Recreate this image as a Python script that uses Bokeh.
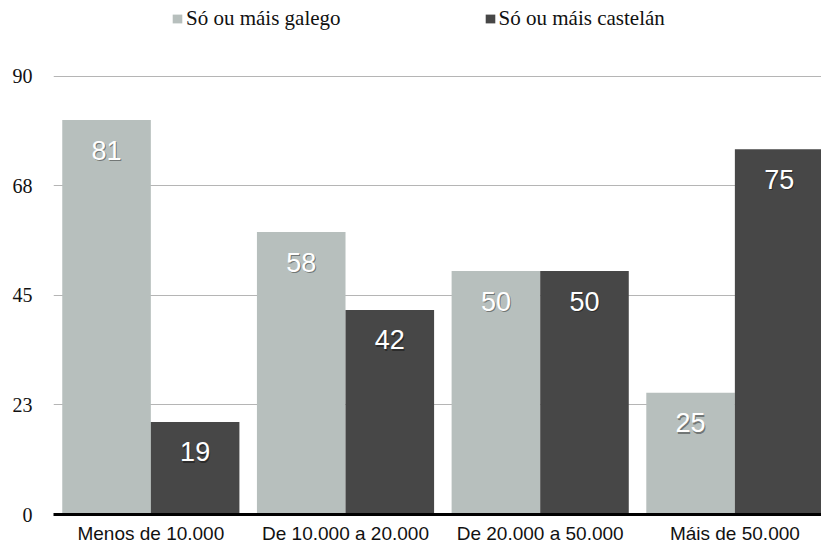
from bokeh.plotting import figure
from bokeh.models import Range1d, FixedTicker, Legend, LegendItem, ColumnDataSource
from bokeh.core.properties import value
from bokeh.embed import file_html
from bokeh.resources import INLINE

categories = ["Menos de 10.000", "De 10.000 a 20.000", "De 20.000 a 50.000", "Máis de 50.000"]
galego = [81, 58, 50, 25]
castelan = [19, 42, 50, 75]
series_names = ["Só ou máis galego", "Só ou máis castelán"]
y_ticks = [0, 22.5, 45, 67.5, 90]
y_tick_labels = ["0", "23", "45", "68", "90"]

GAL_COLOR = "#b7bfbd"
CAS_COLOR = "#474747"
BW = 0.455

centers = [i + 0.5 for i in range(len(categories))]
src_g = ColumnDataSource(dict(x=[c - BW / 2 for c in centers], top=galego,
                              lab=[str(v) for v in galego]))
src_c = ColumnDataSource(dict(x=[c + BW / 2 for c in centers], top=castelan,
                              lab=[str(v) for v in castelan]))

p = figure(width=821, height=546, output_backend="svg", toolbar_location=None,
           x_range=Range1d(0, 3.945), y_range=Range1d(0, 105.55),
           min_border_left=53, min_border_right=0, min_border_top=0, min_border_bottom=30)
p.outline_line_color = None
p.background_fill_color = "white"

rg = p.vbar(x="x", top="top", width=BW, source=src_g, fill_color=GAL_COLOR, line_color=None)
rc = p.vbar(x="x", top="top", width=BW, source=src_c, fill_color=CAS_COLOR, line_color=None)

for src in (src_g, src_c):
    p.text(x="x", y="top", text="lab", source=src, text_align="center", text_baseline="middle",
           x_offset=1, y_offset=31.5, text_color="black", text_alpha=0.4,
           text_font=value("Liberation Sans"), text_font_size="27px")
    p.text(x="x", y="top", text="lab", source=src, text_align="center", text_baseline="middle",
           y_offset=30, text_color="white",
           text_font=value("Liberation Sans"), text_font_size="27px")

# axes
p.xaxis.ticker = FixedTicker(ticks=centers)
p.xaxis.major_label_overrides = {c: lab for c, lab in zip(centers, categories)}
p.xaxis.major_tick_line_color = None
p.xaxis.major_tick_out = 0
p.xaxis.major_tick_in = 0
p.xaxis.minor_tick_line_color = None
p.xaxis.axis_line_color = "black"
p.xaxis.axis_line_width = 3
p.xaxis.major_label_text_font = "Liberation Sans"
p.xaxis.major_label_text_font_size = "19px"
p.xaxis.major_label_text_color = "#111111"
p.xaxis.major_label_standoff = 8

p.yaxis.ticker = FixedTicker(ticks=y_ticks)
p.yaxis.major_label_overrides = {t: lab for t, lab in zip(y_ticks, y_tick_labels)}
p.yaxis.major_tick_line_color = None
p.yaxis.major_tick_out = 0
p.yaxis.major_tick_in = 0
p.yaxis.minor_tick_line_color = None
p.yaxis.axis_line_color = None
p.yaxis.major_label_text_font = "Liberation Serif"
p.yaxis.major_label_text_font_size = "20px"
p.yaxis.major_label_text_color = "#111111"
p.yaxis.major_label_standoff = 21

p.xgrid.grid_line_color = None
p.ygrid.ticker = FixedTicker(ticks=y_ticks[1:])
p.ygrid.grid_line_color = "#b5b5b5"
p.ygrid.grid_line_width = 1

legend = Legend(items=[LegendItem(label=series_names[0], renderers=[rg]),
                       LegendItem(label=series_names[1], renderers=[rc])],
                orientation="horizontal", location=(118, 483),
                glyph_width=12, glyph_height=11, label_standoff=3, spacing=143,
                label_text_font="Liberation Serif", label_text_font_size="21px",
                label_text_color="#111111", border_line_color=None,
                background_fill_alpha=0, padding=0, margin=0)
p.add_layout(legend)

open("out.html", "w").write(file_html(p, INLINE))
